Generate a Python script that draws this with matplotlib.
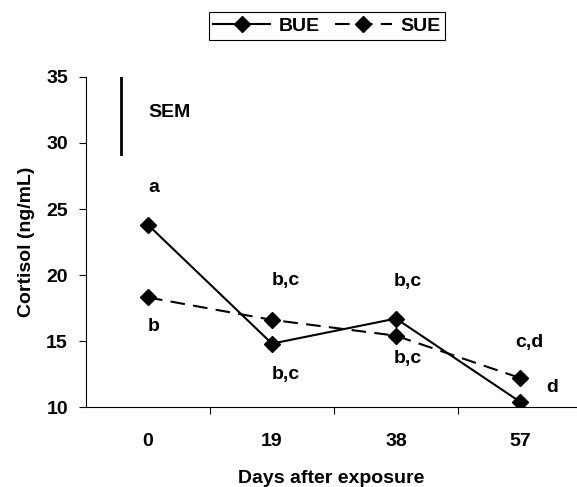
import matplotlib.pyplot as plt

plt.rcParams['font.family'] = ['Liberation Sans', 'DejaVu Sans']
plt.rcParams['font.weight'] = 'bold'

days = ['0', '19', '38', '57']
bue = [23.8, 14.8, 16.7, 10.4]
sue = [18.3, 16.6, 15.4, 12.2]

# letters: (x index, y, text)
letters_x = [0, 0, 1, 1, 2, 2, 3, 3]
letters_y = [26.6, 16.1, 19.6, 12.5, 19.5, 13.7, 14.9, 11.5]
letters = ['a', 'b', 'b,c', 'b,c', 'b,c', 'b,c', 'c,d', 'd']
letters_dx = [0, 0, 0, 0, -0.02, -0.02, -0.04, 0.21]

sem_x = -0.22
sem_lo, sem_hi = 29.2, 35.0

fs = 14

fig = plt.figure(figsize=(5.77, 4.87), dpi=100)
ax = fig.add_axes([86/577, 1-407/487, 1-86/577, 330/487])

x = list(range(len(days)))
ax.plot(x, bue, '-', color='black', lw=1.5, marker='D', ms=8, label='BUE')
ax.plot(x, sue, '--', color='black', lw=1.5, marker='D', ms=8,
        dashes=(7, 4), label='SUE')

ax.plot([sem_x, sem_x], [sem_lo, sem_hi], color='black', lw=2)
ax.text(0, 32.3, 'SEM', fontsize=fs, fontweight='bold', va='center', ha='left')

for i in range(len(letters)):
    ax.text(letters_x[i] + letters_dx[i], letters_y[i], letters[i], fontsize=fs,
            fontweight='bold', ha='left', va='center')

ax.set_xlim(-0.5, 3.46)
ax.set_ylim(10, 35)
ax.set_yticks([10, 15, 20, 25, 30, 35])
ax.set_xticks([0.5, 1.5, 2.5])
ax.set_xticklabels([])
ax.set_xticks(x, minor=True)
ax.set_xticklabels(days, minor=True)
ax.tick_params(axis='x', which='minor', length=0, pad=19, labelsize=fs)
ax.tick_params(axis='x', which='major', length=5, direction='out')
ax.tick_params(axis='y', length=5, pad=8, direction='out', labelsize=fs)
for lab in ax.get_yticklabels() + ax.get_xticklabels(minor=True):
    lab.set_fontweight('bold')

ax.spines['top'].set_visible(False)
ax.spines['right'].set_visible(False)
ax.spines['left'].set_linewidth(0.8)
ax.spines['bottom'].set_linewidth(0.8)

ax.set_xlabel('Days after exposure', fontsize=fs, fontweight='bold', labelpad=14)
ax.set_ylabel('Cortisol (ng/mL)', fontsize=fs, fontweight='bold', labelpad=8)

leg = fig.legend(loc='center', bbox_to_anchor=(327/577, 1-26/487), ncol=2,
                 fancybox=False, edgecolor='black', framealpha=1,
                 fontsize=fs, handlelength=2.9, columnspacing=0.8,
                 borderpad=0.25, handletextpad=0.45, borderaxespad=0)
leg.get_frame().set_linewidth(0.8)
for t in leg.get_texts():
    t.set_fontweight('bold')

fig.savefig('out.png', dpi=100)
